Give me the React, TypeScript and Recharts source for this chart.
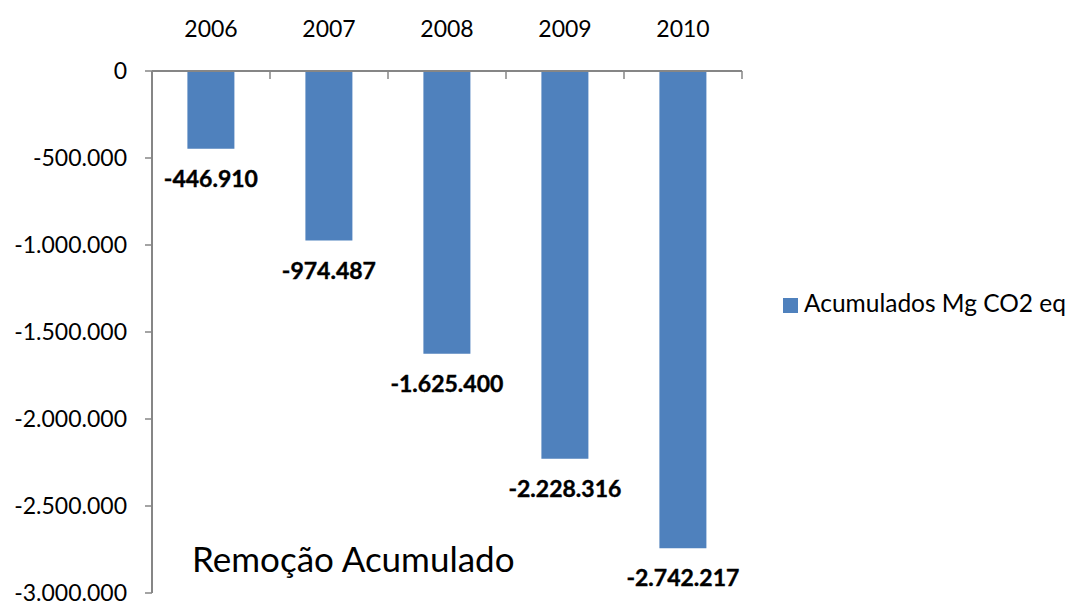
import React from 'react';
import { BarChart, Bar, XAxis, YAxis, Legend, LabelList } from 'recharts';

const years = ['2006', '2007', '2008', '2009', '2010'];
const removals = [-446910, -974487, -1625400, -2228316, -2742217];
const yTicks = [0, -500000, -1000000, -1500000, -2000000, -2500000, -3000000];
const seriesName = 'Acumulados Mg CO2 eq';
const chartTitle = 'Remoção Acumulado';

const data = years.map((y, i) => ({ year: y, value: removals[i] }));

const fmt = (v: number) => {
  const s = Math.round(Math.abs(v)).toString().replace(/\B(?=(\d{3})+(?!\d))/g, '.');
  return (v < 0 ? '-' : '') + s;
};

const AXIS = '#868686';
const FONT = 'Lato, "Open Sans", sans-serif';

const XTick = (props: any) => {
  const { x, y, payload, index, width, visibleTicksCount } = props;
  const half = typeof payload?.offset === 'number' && payload.offset > 0 ? payload.offset : width / visibleTicksCount / 2;
  return (
    <g>
      <line x1={x - half} x2={x - half} y1={y} y2={y + 8} stroke={AXIS} strokeWidth={1.5} />
      {index === visibleTicksCount - 1 && (
        <line x1={x + half} x2={x + half} y1={y} y2={y + 8} stroke={AXIS} strokeWidth={1.5} />
      )}
      <text x={x} y={y - 34.5} textAnchor="middle" fontFamily={FONT} fontSize={23} fill="#000">
        {payload.value}
      </text>
    </g>
  );
};

const BarLabel = (props: any) => {
  const { x, y, width, height, value } = props;
  const bottom = Math.max(y, y + height);
  return (
    <text x={x + width / 2} y={bottom + 38} textAnchor="middle" fontFamily={FONT} fontWeight="bold" fontSize={23} fill="#000" stroke="#000" strokeWidth={0.4}>
      {fmt(value)}
    </text>
  );
};

export default function App() {
  return (
    <div style={{ position: 'absolute', left: 0, top: 0, width: 1066, height: 601, background: '#fff', fontFamily: FONT }}>
      <BarChart width={1066} height={601} data={data} margin={{ top: 21, right: 324, bottom: 8, left: 0 }} barCategoryGap="30%">
        <XAxis
          dataKey="year"
          orientation="top"
          height={50}
          axisLine={{ stroke: AXIS, strokeWidth: 2 }}
          tickLine={false}
          tickSize={0}
          tickMargin={0}
          tick={<XTick />}
          interval={0}
        />
        <YAxis
          type="number"
          domain={[-3000000, 0]}
          ticks={yTicks}
          interval={0}
          width={152}
          tickFormatter={fmt}
          axisLine={{ stroke: AXIS, strokeWidth: 2 }}
          tickLine={{ stroke: AXIS, strokeWidth: 1.5 }}
          tickSize={7}
          tickMargin={18}
          tick={{ fontFamily: FONT, fontSize: 23, fill: '#000' }}
        />
        <Legend
          layout="vertical"
          align="center"
          verticalAlign="middle"
          iconType="square"
          iconSize={15}
          wrapperStyle={{ left: 783, top: 288, width: 283, fontFamily: FONT, fontSize: 24.5, whiteSpace: 'nowrap' }}
          formatter={(v: string) => <span style={{ color: '#000', marginLeft: 2, whiteSpace: 'nowrap' }}>{v}</span>}
        />
        <Bar dataKey="value" name={seriesName} fill="#4F81BD" isAnimationActive={false}>
          <LabelList dataKey="value" content={<BarLabel />} />
        </Bar>
      </BarChart>
      <div style={{ position: 'absolute', left: 192, top: 541, fontFamily: FONT, fontSize: 35, lineHeight: '35px', color: '#000', whiteSpace: 'nowrap' }}>
        {chartTitle}
      </div>
    </div>
  );
}
